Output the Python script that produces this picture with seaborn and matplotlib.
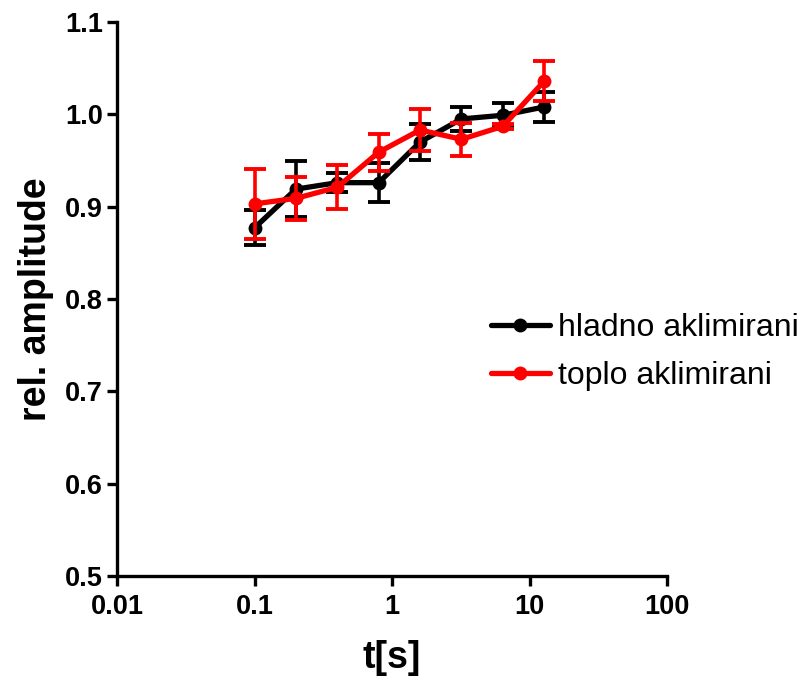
import matplotlib
matplotlib.use("Agg")
import matplotlib.pyplot as plt
import seaborn as sns
import pandas as pd
import numpy as np
from matplotlib.ticker import FixedLocator, FixedFormatter, NullLocator

t = [0.1, 0.2, 0.4, 0.8, 1.6, 3.2, 6.4, 12.8]
cold = [0.877, 0.919, 0.926, 0.926, 0.970, 0.995, 0.999, 1.008]
cold_err = [0.019, 0.030, 0.010, 0.021, 0.019, 0.013, 0.013, 0.016]
warm = [0.903, 0.909, 0.921, 0.959, 0.983, 0.973, 0.987, 1.036]
warm_err = [0.038, 0.023, 0.024, 0.020, 0.023, 0.018, 0.003, 0.022]
labels = ["hladno aklimirani", "toplo aklimirani"]
xticks = [0.01, 0.1, 1, 10, 100]
xticklabels = ["0.01", "0.1", "1", "10", "100"]
yticks = [0.5, 0.6, 0.7, 0.8, 0.9, 1.0, 1.1]

sns.set_style("white")
plt.rcParams['font.family'] = ['Liberation Sans', 'DejaVu Sans']
plt.rcParams['text.color'] = 'black'
plt.rcParams['axes.labelcolor'] = 'black'
plt.rcParams['xtick.color'] = 'black'
plt.rcParams['ytick.color'] = 'black'

df = pd.DataFrame({
    "t": t * 2,
    "amp": cold + warm,
    "err": cold_err + warm_err,
    "group": [labels[0]] * len(t) + [labels[1]] * len(t),
})

fig = plt.figure(figsize=(8.05, 6.77), dpi=100)
ax = fig.add_axes([117/805, 101/677, 550/805, 554/677])

colors = {labels[0]: "black", labels[1]: "#ff0000"}
for i, g in enumerate(labels):
    sub = df[df.group == g]
    ax.errorbar(sub.t, sub.amp, yerr=sub.err, fmt="none", ecolor=colors[g],
                elinewidth=2.6, capsize=8, capthick=2.8, zorder=2 + 2 * i)
sns.lineplot(data=df, x="t", y="amp", hue="group", palette=colors,
             marker="o", markersize=10, markeredgewidth=0, linewidth=3.8,
             ax=ax, legend=True, zorder=3)
for i, line in enumerate(ax.get_lines()[-2:]):
    line.set_zorder(3 + 2 * i)

ax.set_xscale("log")
ax.set_xlim(0.01, 100)
ax.set_ylim(0.5, 1.1)
ax.xaxis.set_major_locator(FixedLocator(xticks))
ax.xaxis.set_major_formatter(FixedFormatter(xticklabels))
ax.xaxis.set_minor_locator(NullLocator())
ax.set_yticks(yticks)
ax.set_yticklabels([f"{v:.1f}" for v in yticks])

for s in ["top", "right"]:
    ax.spines[s].set_visible(False)
for s in ["left", "bottom"]:
    ax.spines[s].set_linewidth(2.4)
    ax.spines[s].set_color("black")
ax.tick_params(axis="both", which="major", direction="out", length=7, width=2.4,
               labelsize=19.5, color="black", labelcolor="black", pad=3,
               bottom=True, left=True)
ax.tick_params(axis="x", pad=6)
for lab in ax.get_xticklabels() + ax.get_yticklabels():
    lab.set_fontweight("bold")

ax.set_xlabel("t[s]", fontsize=27, fontweight="bold", labelpad=14, color="black")
ax.set_ylabel("rel. amplitude", fontsize=27, fontweight="bold", labelpad=8, color="black")

leg = ax.legend(loc="center left", bbox_to_anchor=(478/805, 325/677),
                bbox_transform=fig.transFigure, frameon=False, fontsize=23,
                handlelength=1.85, handletextpad=0.25, labelspacing=0.55,
                borderaxespad=0)
for txt in leg.get_texts():
    txt.set_color("black")

fig.savefig("out.png", dpi=100)
